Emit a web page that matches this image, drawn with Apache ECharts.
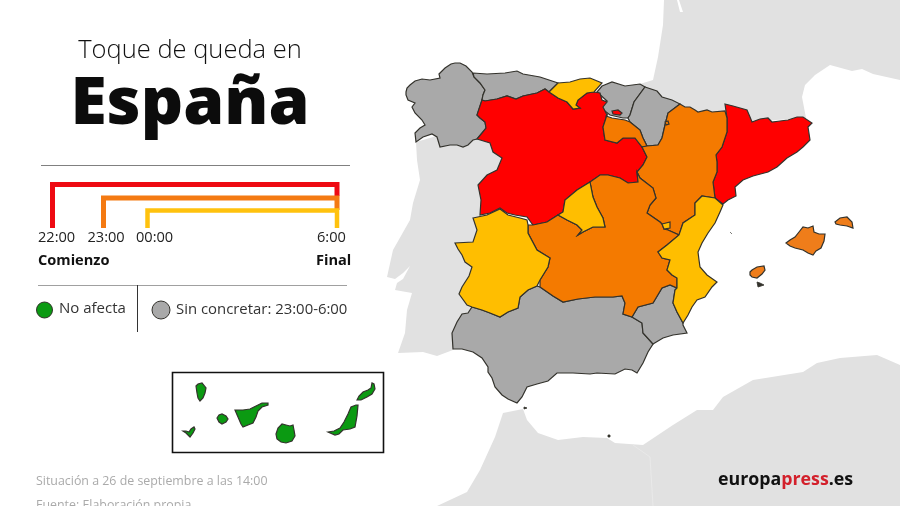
<!DOCTYPE html>
<html lang="es">
<head>
  <meta charset="UTF-8" />
  <title>Toque de queda en España</title>
  <script src="https://cdn.jsdelivr.net/npm/echarts@6/dist/echarts.min.js"></script>
  <style>html,body{margin:0;background:#fff}</style>
</head>
<body>
  <div id="main" style="width: 900px; height: 506px;"></div>
  <script>
    // contornos en unidades del mapa (x hacia la derecha, y hacia abajo)
    const francia = [[664,0],[677,0],[680,12],[683,12],[679,0],[900,0],[900,80],[873,74],[862,69],[852,71],[830,65],[815,75],[805,85],[802,97],[806,118],[700,125],[620,90],[653,80],[658,57],[663,25]];
    const portugal = [[416,142],[440,135],[505,135],[505,310],[453,350],[437,356],[423,352],[398,353],[405,333],[407,310],[412,293],[395,290],[397,283],[403,279],[410,266],[403,273],[395,279],[387,277],[393,250],[410,220],[413,203],[420,180],[417,160]];
    const africa = [[437,506],[467,492],[480,470],[495,437],[503,413],[523,409],[527,420],[538,433],[558,440],[583,437],[607,438],[615,443],[643,445],[673,425],[697,410],[713,410],[723,397],[753,380],[803,372],[817,363],[840,358],[877,355],[900,365],[900,506]];
    const fronteraArgelia = [[633,445],[650,457],[653,506]];

    const galicia = [[406,92],[407,88],[410,85],[415,81],[422,79],[430,80],[440,78],[439,74],[445,68],[451,64],[455,63],[460,63],[466,66],[472,72],[474,77],[480,83],[485,90],[483,95],[482,100],[477,115],[480,118],[485,122],[486,128],[482,133],[477,139],[473,140],[468,145],[463,147],[457,145],[450,145],[440,147],[437,137],[432,134],[423,137],[416,142],[415,133],[420,128],[425,125],[422,120],[415,113],[412,107],[415,103],[408,100],[406,95]];
    const asturias = [[473,73],[487,74],[505,73],[517,71],[523,74],[540,77],[558,83],[549,92],[545,89],[537,93],[523,96],[516,99],[507,96],[497,99],[485,101],[482,100],[483,95],[485,90],[480,83],[474,77]];
    const cantabria = [[558,83],[570,82],[580,79],[590,78],[602,83],[594,92],[587,93],[578,100],[576,105],[580,108],[573,109],[567,102],[558,98],[549,92]];
    const castillaLeon = [[485,101],[497,99],[507,96],[516,99],[523,96],[537,93],[545,89],[549,92],[558,98],[567,102],[573,109],[580,108],[576,105],[578,100],[587,93],[594,92],[600,93],[602,100],[607,102],[603,107],[607,115],[603,127],[605,140],[617,143],[623,138],[635,138],[642,147],[647,157],[643,165],[637,172],[638,182],[628,183],[620,178],[608,175],[600,175],[590,182],[577,190],[565,200],[563,212],[558,215],[547,222],[533,225],[527,217],[515,215],[507,213],[500,208],[490,213],[480,215],[481,200],[478,185],[487,175],[497,170],[502,158],[493,152],[490,143],[477,139],[482,133],[486,128],[485,122],[480,118],[477,115],[482,100]];
    const trevino = [[612,111],[618,110],[622,113],[620,115],[613,114]];
    const paisVasco = [[602,86],[612,82],[625,86],[640,84],[645,87],[634,102],[630,115],[628,118],[623,118],[610,115],[601,108],[598,103],[607,101],[597,92]];
    const navarra = [[645,87],[657,91],[662,97],[672,100],[680,104],[668,113],[665,125],[662,138],[658,145],[647,146],[643,138],[640,130],[630,122],[628,118],[630,115],[634,102]];
    const rioja = [[606,116],[612,118],[625,120],[630,122],[640,130],[643,138],[647,146],[642,147],[635,138],[623,138],[617,143],[605,140],[603,127],[607,115]];
    const aragon = [[680,104],[685,107],[690,107],[695,110],[698,112],[707,110],[712,112],[725,111],[727,118],[727,132],[722,147],[716,155],[717,162],[717,172],[713,182],[714,190],[715,198],[702,196],[695,203],[695,215],[683,223],[679,235],[668,230],[660,222],[647,213],[650,205],[656,198],[653,188],[640,178],[637,172],[643,165],[647,157],[642,147],[647,146],[658,145],[662,138],[665,125],[668,113]];
    const petilla = [[665,122],[668,121],[669,124],[666,125]];
    const catalunya = [[725,104],[733,106],[747,110],[750,117],[752,122],[760,119],[768,118],[772,122],[780,121],[788,120],[797,117],[803,117],[812,123],[808,127],[810,140],[803,147],[797,152],[787,158],[777,167],[768,172],[753,176],[743,180],[735,187],[736,196],[728,200],[723,204],[715,198],[714,190],[713,182],[717,172],[717,162],[716,155],[722,147],[727,132],[727,118]];
    const madrid = [[590,182],[593,197],[597,207],[603,218],[605,227],[593,227],[583,232],[578,235],[582,230],[577,225],[567,220],[558,215],[563,212],[565,200],[577,190]];
    const castillaMancha = [[600,175],[608,175],[620,178],[628,183],[638,182],[637,172],[640,178],[653,188],[656,198],[650,205],[647,213],[660,222],[662,224],[664,229],[668,230],[679,235],[667,245],[658,252],[662,258],[670,260],[667,270],[672,275],[677,278],[677,288],[670,285],[662,288],[653,303],[638,307],[632,317],[623,314],[625,303],[622,296],[613,297],[595,297],[578,299],[563,302],[553,296],[540,287],[540,280],[548,267],[550,258],[537,250],[528,233],[528,225],[533,225],[547,222],[558,215],[567,220],[577,225],[582,230],[578,235],[583,232],[593,227],[605,227],[603,218],[597,207],[593,197],[590,182]];
    const ademuz = [[662,224],[670,222],[670,228],[664,229]];
    const valencia = [[702,196],[715,198],[723,205],[720,212],[715,223],[708,233],[702,243],[698,252],[699,260],[700,267],[707,275],[717,282],[712,287],[705,297],[697,300],[692,307],[688,315],[683,323],[677,312],[673,303],[675,290],[677,288],[677,278],[672,275],[667,270],[670,260],[662,258],[658,252],[667,245],[679,235],[683,223],[695,215],[695,203]];
    const extremadura = [[473,218],[487,215],[500,209],[508,215],[520,218],[527,220],[528,225],[528,233],[537,250],[550,258],[548,267],[540,280],[537,286],[528,290],[520,297],[518,308],[508,312],[500,317],[490,313],[482,310],[472,307],[467,305],[459,294],[462,287],[469,276],[472,267],[465,262],[462,255],[458,249],[455,243],[473,242],[477,230]];
    const andalucia = [[468,313],[462,314],[457,322],[452,333],[453,349],[462,349],[473,352],[482,358],[488,367],[488,372],[492,378],[495,387],[502,395],[508,399],[517,403],[522,397],[527,387],[537,384],[548,381],[557,373],[573,373],[590,374],[597,373],[615,374],[625,369],[632,370],[637,373],[643,363],[648,352],[653,344],[643,333],[642,323],[632,317],[623,314],[625,303],[622,296],[613,297],[595,297],[578,299],[563,302],[553,296],[540,287],[537,286],[528,290],[520,297],[518,308],[508,312],[500,317],[490,313],[482,310],[472,307]];
    const murcia = [[632,317],[638,307],[653,303],[662,288],[670,285],[677,288],[675,290],[673,303],[677,312],[683,323],[683,325],[687,333],[673,335],[663,338],[653,344],[643,333],[642,323]];
    const mallorca = [[786,243],[790,240],[795,237],[799,232],[803,227],[808,228],[813,226],[814,232],[819,234],[825,234],[824,241],[821,248],[816,251],[813,255],[808,253],[803,250],[795,248],[790,246]];
    const menorca = [[835,222],[840,218],[847,217],[852,222],[853,228],[847,226],[840,225],[836,224]];
    const ibiza = [[750,272],[752,270],[757,267],[764,266],[765,270],[762,274],[757,278],[752,277],[750,275]];
    const formentera = [[757,282],[760,283],[764,285],[758,287]];
    const ceuta = [[524,407],[527,408],[524,409]];
    const melilla = [[608,435],[610,435],[610,437],[608,437]];
    const columbretes = [[730.5,232.5],[731.5,232.5],[731.5,233.5],[730.5,233.5]];
    const laPalma = [[196,386],[198,384],[202,383],[206,388],[205,393],[203,398],[200,401],[198,398],[197,393]];
    const gomera = [[217,418],[219,415],[222,414],[226,416],[228,419],[226,422],[222,424],[219,422]];
    const hierro = [[183,431],[186,431],[189,432],[191,429],[194,427],[195,429],[193,433],[190,437],[188,435],[186,433]];
    const tenerife = [[235,410],[243,410],[250,409],[256,406],[262,403],[268,403],[268,405],[262,407],[258,411],[256,417],[253,423],[248,425],[243,427],[241,424],[238,417]];
    const granCanaria = [[276,434],[278,428],[282,424],[286,425],[290,426],[293,425],[294,430],[295,436],[292,441],[286,443],[281,442],[277,439]];
    const fuerteventura = [[328,432],[334,431],[340,428],[344,422],[348,414],[351,407],[356,405],[358,405],[357,416],[355,427],[350,429],[343,430],[339,434],[335,435]];
    const lanzarote = [[357,400],[359,396],[363,392],[368,390],[371,388],[372,383],[374,384],[375,389],[372,394],[367,397],[361,400]];

    // grupos por horario
    const fondo = { francia, portugal, africa };
    const h22 = { castillaLeon, trevino, catalunya };
    const h23 = { rioja, aragon, petilla, castillaMancha };
    const h00 = { cantabria, madrid, valencia, ademuz, extremadura };
    const baleares = { mallorca, menorca, ibiza };
    const sinConcretar = { galicia, asturias, paisVasco, navarra, andalucia, murcia };
    const islotes = { formentera, ceuta, melilla, columbretes };
    const noAfecta = { laPalma, gomera, hierro, tenerife, granCanaria, fuerteventura, lanzarote };

    const grupos = [
      [fondo, "#e1e1e1", 0],
      [sinConcretar, "#a9a9a9", 1.2],
      [h22, "#ff0000", 1.2],
      [h23, "#f47a00", 1.2],
      [h00, "#ffbe00", 1.2],
      [baleares, "#ef7d1a", 1.2],
      [islotes, "#33322c", 0.8],
      [noAfecta, "#0b9a12", 1.2],
    ];

    const features = [];
    const regions = [];
    grupos.forEach(([grupo, color, ancho]) => {
      Object.keys(grupo).forEach((name) => {
        const ring = grupo[name].concat([grupo[name][0]]);
        features.push({ type: "Feature", properties: { name }, geometry: { type: "Polygon", coordinates: [ring] } });
        regions.push({ name, itemStyle: { areaColor: color, borderColor: "#33322c", borderWidth: ancho } });
      });
    });
    echarts.registerMap("espana", { type: "FeatureCollection", features });

    const myChart = echarts.init(document.getElementById("main"));
    const font = '"Open Sans", sans-serif';
    const txt = (x, y, text, size, weight, fill, align) => ({
      type: "text", x, y, z: 10, silent: true,
      style: { text, fill: fill || "#222", font: `${weight || 400} ${size}px ${font}`, textAlign: align || "left", textVerticalAlign: "middle" },
    });
    const trazo = (points, stroke, lineWidth) => ({
      type: "polyline", z: 9, silent: true, shape: { points }, style: { stroke, lineWidth, fill: null },
    });
    const punto = (cx, cy, r, fill) => ({
      type: "circle", z: 9, silent: true, shape: { cx, cy, r }, style: { fill, stroke: "#33322c", lineWidth: 1 },
    });

    myChart.setOption({
      backgroundColor: "#fff",
      animation: false,
      geo: {
        map: "espana",
        roam: false,
        silent: true,
        projection: { project: (p) => p, unproject: (p) => p },
        boundingCoords: [[0, 0], [900, 506]],
        layoutCenter: ["50%", "50%"],
        layoutSize: 900,
        label: { show: false },
        emphasis: { disabled: true },
        regions,
      },
      series: [
        {
          type: "lines",
          coordinateSystem: "geo",
          polyline: true,
          silent: true,
          lineStyle: { color: "#e9e9e9", width: 1, opacity: 1 },
          data: [{ coords: fronteraArgelia }],
        },
      ],
      graphic: {
        elements: [
          txt(190, 51, "Toque de queda en", 25.5, 300, "#111", "center"),
          txt(190, 105, "España", 66, 800, "#0c0c0c", "center"),
          trazo([[41, 165.5], [350, 165.5]], "#808080", 1),
          trazo([[52.5, 228], [52.5, 184.5], [337, 184.5], [337, 196]], "#ee0a12", 5),
          trazo([[103.5, 228], [103.5, 198], [337, 198], [337, 210]], "#f47a12", 5),
          trazo([[147.5, 228], [147.5, 210.5], [337, 210.5], [337, 228]], "#ffc20e", 4.5),
          txt(38, 238, "22:00", 14.6, 400),
          txt(87.5, 238, "23:00", 14.6, 400),
          txt(136, 238, "00:00", 14.6, 400),
          txt(317, 238, "6:00", 14.6, 400),
          txt(38, 261, "Comienzo", 14.6, 700, "#111"),
          txt(316, 261, "Final", 14.6, 700, "#111"),
          trazo([[38, 285.5], [347, 285.5]], "#a0a0a0", 1),
          trazo([[137.5, 285], [137.5, 332]], "#333", 1),
          punto(44.5, 310, 8, "#0b9a12"),
          txt(59, 309, "No afecta", 15, 400, "#333"),
          punto(161, 310, 9, "#a9a9a9"),
          txt(176, 310, "Sin concretar: 23:00-6:00", 14.9, 400, "#333"),
          { type: "rect", z: 1, silent: true, shape: { x: 172.5, y: 372.5, width: 211, height: 80 }, style: { fill: null, stroke: "#111", lineWidth: 1.6 } },
          txt(36, 481, "Situación a 26 de septiembre a las 14:00", 12.4, 400, "#aaaaaa"),
          txt(36, 505, "Fuente: Elaboración propia", 12.4, 400, "#aaaaaa"),
          {
            type: "text", x: 718, y: 480, z: 10, silent: true,
            style: {
              text: "{a|europa}{b|press}{a|.es}",
              textVerticalAlign: "middle",
              rich: {
                a: { font: `700 17.8px ${font}`, fill: "#111", color: "#111" },
                b: { font: `700 17.8px ${font}`, fill: "#d3202b", color: "#d3202b" },
              },
            },
          },
        ],
      },
    });
  </script>
</body>
</html>
